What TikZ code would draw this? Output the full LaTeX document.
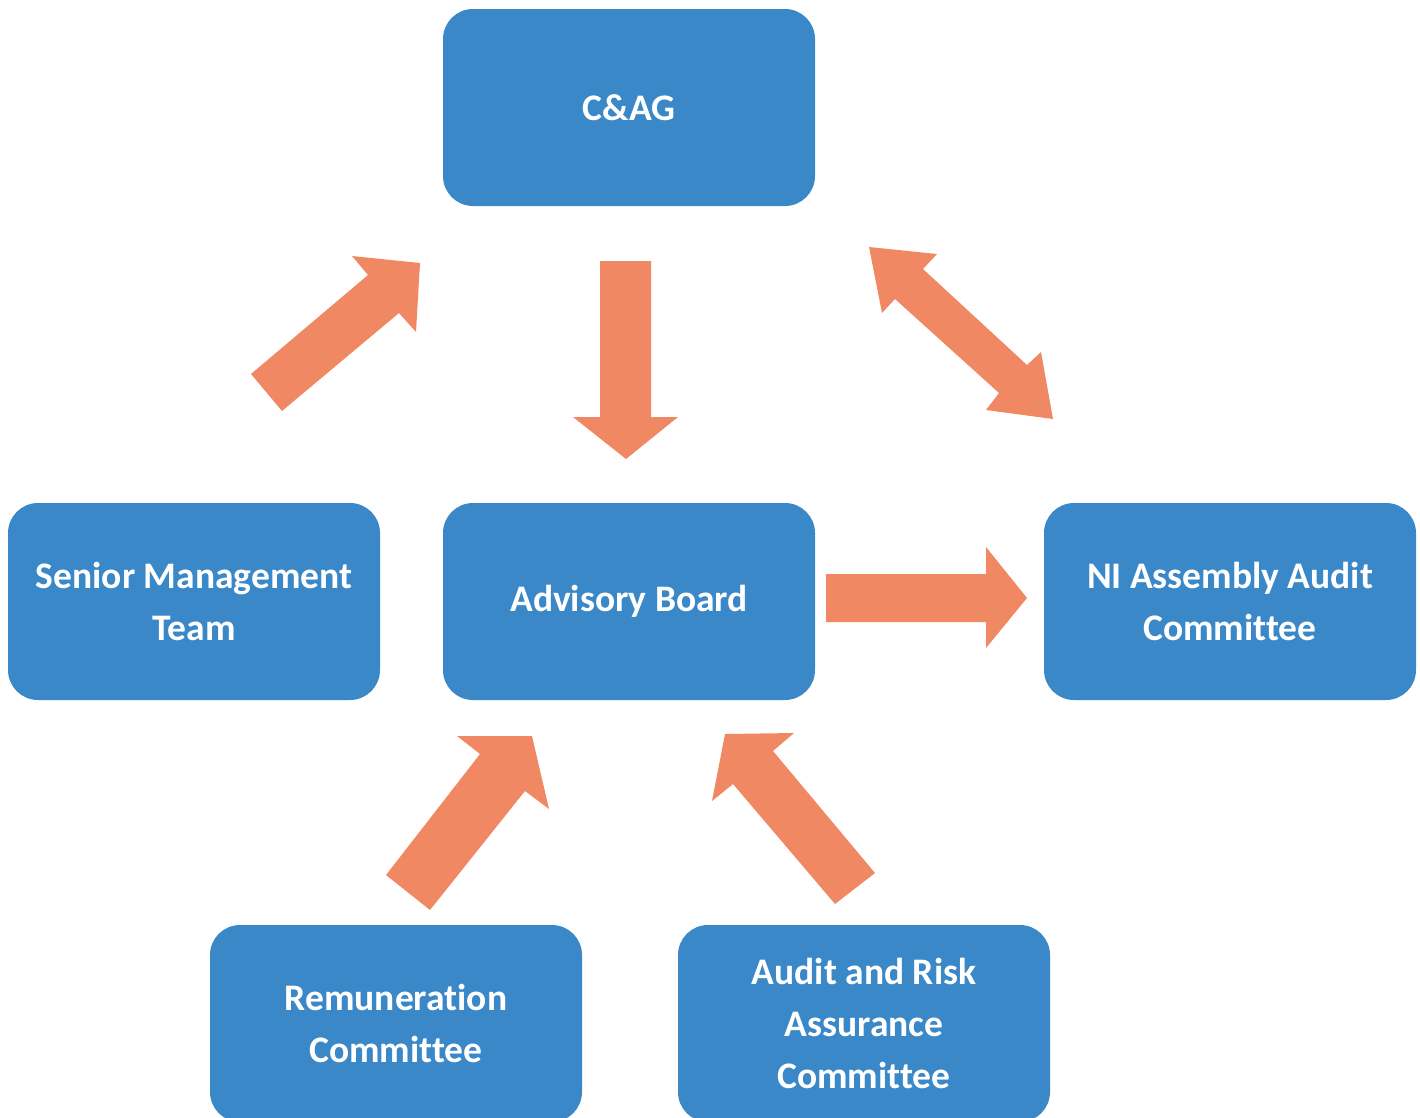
\documentclass[tikz,border=0pt]{standalone}
\usepackage{fontspec}
\setmainfont[RawFeature=-liga]{Carlito}
\definecolor{boxblue}{HTML}{3B88C8}
\definecolor{arrorange}{HTML}{F08963}
\tikzset{
  box/.style={fill=boxblue, rounded corners=30pt, minimum width=372pt, minimum height=197pt,
    inner sep=0pt, text=white, align=center, font=\fontsize{37.5}{52}\selectfont\bfseries},
  blockarrow/.style={fill=arrorange, draw=none}
}
\begin{document}
\begin{tikzpicture}[x=1pt,y=-1pt]
\useasboundingbox (0,0) rectangle (1420,1117);
\clip (0,0) rectangle (1420,1117);
\node[box] (cag) at (629,107.5) {C\&AG};
\node[box] (smt) at (194,601.5) {Senior Management\\Team};
\node[box] (ab) at (629,601.5) {Advisory Board};
\node[box] (ni) at (1230,601.5) {NI Assembly Audit\\Committee};
\node[box] (rem) at (396,1023.5) {Remuneration\\Committee};
\node[box] (arac) at (864,1023.5) {Audit and Risk\\Assurance\\Committee};
% C&AG -> Advisory Board
\fill[blockarrow] (600,261) -- (651,261) -- (651,417) -- (678,417) -- (626,459) -- (573,417) -- (600,417) -- cycle;
% SMT -> C&AG
\fill[blockarrow] (251,374) -- (368,275) -- (352,256) -- (420,263) -- (416,332) -- (399,313) -- (282,411) -- cycle;
% C&AG <-> NI
\fill[blockarrow] (869,247) -- (937,254) -- (923,269) -- (1027,365) -- (1041,352) -- (1053,419) -- (986,410) -- (999,393) -- (895,299) -- (882,313) -- cycle;
% AB -> NI
\fill[blockarrow] (826,574) -- (986,574) -- (986,547) -- (1027,598) -- (986,648) -- (986,622) -- (826,622) -- cycle;
% Remuneration -> AB
\fill[blockarrow] (386,875) -- (480,754) -- (457,736) -- (532,736) -- (549,809) -- (525,791) -- (430,910) -- cycle;
% ARAC -> AB
\fill[blockarrow] (875,873) -- (773,751) -- (794,733) -- (725,734) -- (712,801) -- (733,784) -- (835,904) -- cycle;
\end{tikzpicture}
\end{document}
